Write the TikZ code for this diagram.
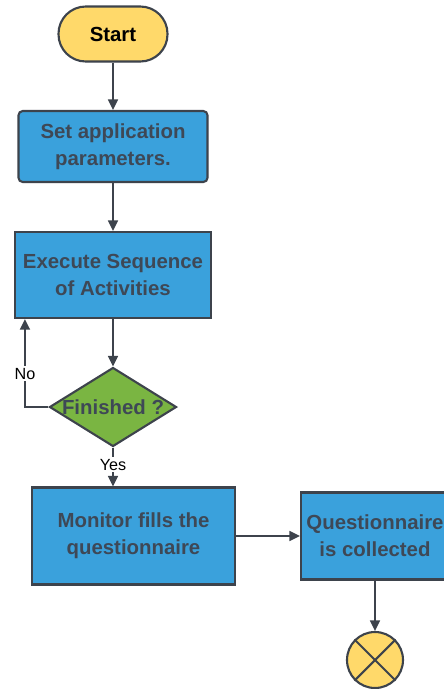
\documentclass[tikz,border=0pt]{standalone}
\usepackage{fontspec}
\setmainfont{Liberation Sans}
\usetikzlibrary{arrows.meta, positioning, shapes.geometric, shadows, calc}

\definecolor{boxblue}{RGB}{58,161,220}
\definecolor{startyellow}{RGB}{255,217,106}
\definecolor{decgreen}{RGB}{122,181,66}
\definecolor{edgegray}{RGB}{61,67,76}
\definecolor{textgray}{RGB}{62,72,86}

\begin{document}
\begin{tikzpicture}[
    box/.style={
        draw=edgegray, fill=boxblue, line width=1.5pt, align=center,
        font=\fontsize{14.5}{19}\selectfont\bfseries, text=textgray,
        drop shadow={opacity=0.15, shadow xshift=0.6pt, shadow yshift=-0.8pt}
    },
    terminal/.style={
        box, fill=startyellow, text=black, rounded corners=0.68cm,
        minimum width=2.725cm, minimum height=1.375cm
    },
    decision/.style={
        diamond, draw=edgegray, fill=decgreen, line width=1.5pt, inner sep=0pt,
        minimum width=3.175cm, minimum height=1.975cm
    },
    endpoint/.style={
        circle, draw=edgegray, fill=startyellow, line width=1.5pt, inner sep=0pt,
        minimum size=1.4cm
    },
    arrow/.style={
        -{Triangle[length=7.5pt, width=7pt]}, line width=1.5pt, edgegray
    },
    lbl/.style={font=\fontsize{11.5}{14}\selectfont, text=black, fill=white, inner sep=1.5pt}
]

\useasboundingbox (0,0) rectangle (11.075,-17.225);

\node[terminal] (start) at (2.825, -0.85) {Start};
\node[box, rounded corners=3pt, minimum width=4.725cm, minimum height=1.775cm] (params) at (2.825, -3.6625) {Set application\\parameters.};
\node[box, minimum width=4.9cm, minimum height=2.15cm] (exec) at (2.825, -6.875) {Execute Sequence\\of Activities};
\node[decision] (fin) at (2.825, -10.175) {};
\node[font=\fontsize{14.5}{19}\selectfont\bfseries, text=textgray] (fintext) at (fin.center) {Finished ?};
\node[box, minimum width=5.075cm, minimum height=2.425cm] (monitor) at (3.3375, -13.4) {Monitor fills the\\questionnaire};
\node[box, minimum width=3.7cm, minimum height=2.175cm] (collect) at (9.375, -13.4) {Questionnaire\\is collected};
\node[endpoint] (stop) at (9.375, -16.5) {};
\draw[edgegray, line width=1.5pt] (stop.north west) -- (stop.south east);
\draw[edgegray, line width=1.5pt] (stop.north east) -- (stop.south west);

\draw[arrow] (start.south) -- (params.north);
\draw[arrow] (params.south) -- (exec.north);
\draw[arrow] (exec.south) -- (fin.north);
\draw[arrow] (fin.west) -| node[lbl, pos=0.69] {No} ($(exec.south west)+(0.275,0)$);
\draw[arrow] (fin.south) -- node[lbl, pos=0.44] {Yes} (fin.south |- monitor.north);
\draw[arrow] (monitor.east) -- (collect.west);
\draw[arrow] (collect.south) -- (stop.north);

\end{tikzpicture}
\end{document}
